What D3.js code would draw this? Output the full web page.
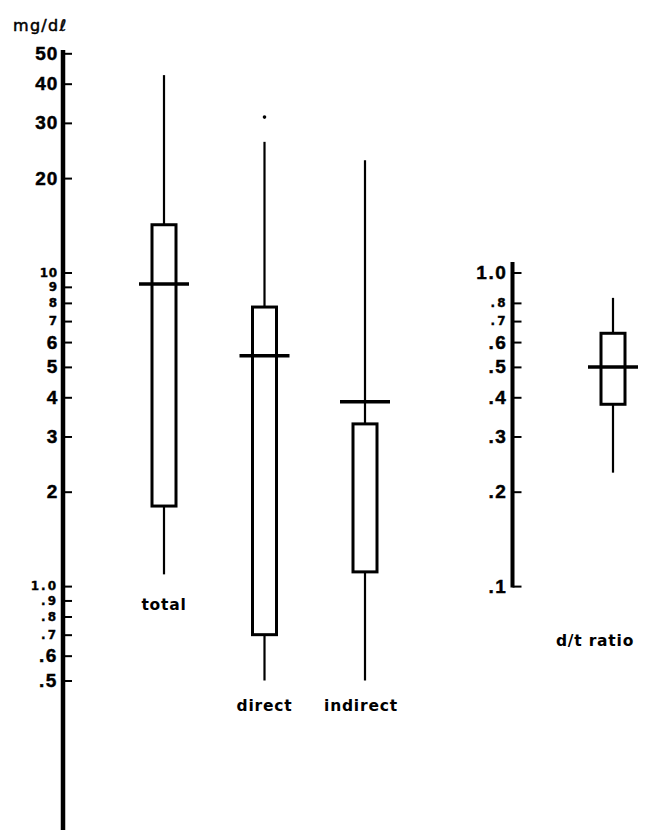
<!DOCTYPE html>
<html>
<head>
<meta charset="utf-8">
<script src="https://cdn.jsdelivr.net/npm/d3@7/dist/d3.min.js"></script>
<style>
  html, body { margin: 0; padding: 0; background: #fff; }
  svg { display: block; }
</style>
</head>
<body>
<script>
// Serum bilirubin fractions (mg/dl) and direct/total ratio: range, interquartile box, median
const categories   = ["total", "direct", "indirect"];
const whiskerHigh  = [42.6, 26.1, 22.8];
const boxHigh      = [14.2, 7.76, 3.29];
const medians      = [9.19, 5.43, 3.87];
const boxLow       = [1.80, 0.70, 1.11];
const whiskerLow   = [1.09, 0.50, 0.50];
const outliers     = [{ cat: "direct", value: 31.3 }];

const ratioCategory    = ["d/t ratio"];
const ratioWhiskerHigh = [0.83];
const ratioBoxHigh     = [0.64];
const ratioMedian      = [0.50];
const ratioBoxLow      = [0.38];
const ratioWhiskerLow  = [0.23];

const leftTicks  = [50, 40, 30, 20, 10, 9, 8, 7, 6, 5, 4, 3, 2, 1, 0.9, 0.8, 0.7, 0.6, 0.5];
const ratioTicks = [1, 0.8, 0.7, 0.6, 0.5, 0.4, 0.3, 0.2, 0.1];
const unitLabel  = "mg/dℓ";

const W = 658, H = 830;
const svg = d3.select("body").append("svg").attr("width", W).attr("height", H)
  .style("background", "#fff");

// Shared logarithmic vertical scale; the ratio axis is the same scale shifted one decade
const y  = d3.scaleLog().domain([0.5, 50]).range([680.5, 53.3]);
const yR = d3.scaleLog().domain([0.05, 5]).range([680.5, 53.3]);

const x  = d3.scalePoint().domain(categories).range([164, 365]);
const xR = d3.scalePoint().domain(ratioCategory).range([590, 636]);

const leftAxisX = 63, rightAxisX = 512.5;
const boxW = 24, medHalf = 25;

function fmt(d) {
  if (d >= 2) return String(d);
  if (d === 1) return "1.0";
  return "." + Math.round(d * 10);
}

// Labels crowded between close ticks are set smaller
function styleTickLabels(g, scale, ticks) {
  const ys = ticks.map(t => scale(t));
  g.selectAll(".tick text").each(function(d, i) {
    const gaps = [];
    if (i > 0) gaps.push(Math.abs(ys[i] - ys[i - 1]));
    if (i < ys.length - 1) gaps.push(Math.abs(ys[i + 1] - ys[i]));
    const crowded = d3.min(gaps) < 20;
    const dotted = fmt(d).includes(".");
    d3.select(this)
      .attr("fill", "#000")
      .attr("stroke", "#000")
      .attr("stroke-width", crowded ? 0.35 : 0.45)
      .style("font-family", crowded ? "'DejaVu Sans', sans-serif" : "'Liberation Sans', Arial, sans-serif")
      .style("font-weight", "bold")
      .style("font-size", crowded ? "12px" : "19px")
      .style("letter-spacing", dotted ? (crowded ? "2px" : "1.6px") : "0.8px");
  });
}

function drawAxis(scale, ticks, ax, extentHigh, extentLow, lineW) {
  const g = svg.append("g").attr("transform", `translate(${ax},0)`);
  g.call(d3.axisLeft(scale).tickValues(ticks).tickFormat(fmt).tickSize(-9).tickPadding(5));
  g.select(".domain").remove();
  g.selectAll(".tick line").attr("stroke", "#000").attr("stroke-width", 2);
  styleTickLabels(g, scale, ticks);
  g.append("line")
    .attr("x1", 0).attr("x2", 0)
    .attr("y1", scale(extentHigh)).attr("y2", scale(extentLow))
    .attr("stroke", "#000").attr("stroke-width", lineW);
  return g;
}

drawAxis(y, leftTicks, leftAxisX, 51.2, 0.15, 4.5);
drawAxis(yR, ratioTicks, rightAxisX, 1.08, 0.099, 4);

// Unit label
svg.append("text")
  .attr("x", 13).attr("y", 31)
  .style("font-family", "'DejaVu Sans', sans-serif")
  .style("font-size", "16px")
  .style("letter-spacing", "1.3px")
  .attr("stroke", "#000").attr("stroke-width", 0.5)
  .text(unitLabel);

function drawBox(g, cx, sc, wHi, bHi, med, bLo, wLo) {
  g.append("line").attr("x1", cx).attr("x2", cx)
    .attr("y1", sc(wHi)).attr("y2", sc(bHi))
    .attr("stroke", "#000").attr("stroke-width", 2.2);
  g.append("line").attr("x1", cx).attr("x2", cx)
    .attr("y1", sc(bLo)).attr("y2", sc(wLo))
    .attr("stroke", "#000").attr("stroke-width", 2.2);
  g.append("rect")
    .attr("x", cx - boxW / 2).attr("width", boxW)
    .attr("y", sc(bHi)).attr("height", sc(bLo) - sc(bHi))
    .attr("fill", "none").attr("stroke", "#000").attr("stroke-width", 3);
  g.append("line").attr("x1", cx - medHalf).attr("x2", cx + medHalf)
    .attr("y1", sc(med)).attr("y2", sc(med))
    .attr("stroke", "#000").attr("stroke-width", 3.5);
}

const boxes = svg.append("g");
categories.forEach((c, i) => {
  drawBox(boxes, x(c), y, whiskerHigh[i], boxHigh[i], medians[i], boxLow[i], whiskerLow[i]);
});
ratioCategory.forEach((c, i) => {
  drawBox(boxes, xR(c), yR, ratioWhiskerHigh[i], ratioBoxHigh[i], ratioMedian[i], ratioBoxLow[i], ratioWhiskerLow[i]);
});

boxes.selectAll("circle.out").data(outliers).join("circle")
  .attr("class", "out")
  .attr("cx", d => x(d.cat)).attr("cy", d => y(d.value)).attr("r", 1.8)
  .attr("fill", "#000");

// Category names under each box
const labelPos = {
  "total":     { dx: 0,   y: 610 },
  "direct":    { dx: 0,   y: 711 },
  "indirect":  { dx: -4,  y: 711 },
  "d/t ratio": { dx: -18, y: 646 }
};
const labelFont = g => g
  .attr("text-anchor", "middle")
  .style("font-family", "'DejaVu Sans', sans-serif")
  .style("font-weight", "bold")
  .style("font-size", "15.5px")
  .style("letter-spacing", "0.8px")
  .attr("fill", "#000");

svg.append("g").selectAll("text").data(categories).join("text")
  .attr("x", d => x(d) + labelPos[d].dx).attr("y", d => labelPos[d].y)
  .call(labelFont).text(d => d);
svg.append("g").selectAll("text").data(ratioCategory).join("text")
  .attr("x", d => xR(d) + labelPos[d].dx).attr("y", d => labelPos[d].y)
  .call(labelFont).text(d => d);
</script>
</body>
</html>
